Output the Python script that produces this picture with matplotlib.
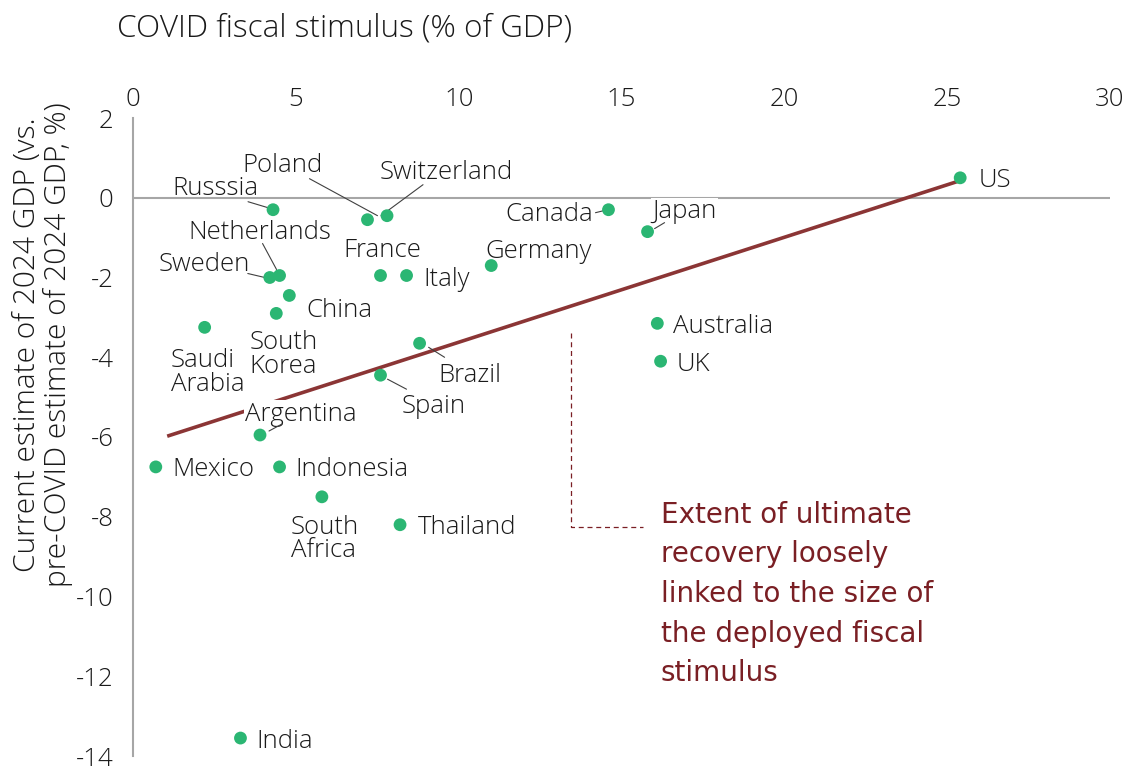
import matplotlib
matplotlib.use("Agg")
import matplotlib.pyplot as plt
import matplotlib.transforms as mtransforms

# ---------------- data ----------------
countries = ["US", "Russsia", "Poland", "Switzerland", "Netherlands", "Sweden",
             "China", "South\nKorea", "Saudi\nArabia", "France", "Italy", "Germany",
             "Canada", "Japan", "Australia", "UK", "Brazil", "Spain", "Argentina",
             "Mexico", "Indonesia", "South\nAfrica", "Thailand", "India"]
stimulus = [25.4, 4.3, 7.2, 7.8, 4.5, 4.2,
            4.8, 4.4, 2.2, 7.6, 8.4, 11.0,
            14.6, 15.8, 16.1, 16.2, 8.8, 7.6, 3.9,
            0.7, 4.5, 5.8, 8.2, 3.3]
gdp_gap = [0.5, -0.3, -0.55, -0.45, -1.95, -2.0,
           -2.45, -2.9, -3.25, -1.95, -1.95, -1.7,
           -0.3, -0.85, -3.15, -4.1, -3.65, -4.45, -5.95,
           -6.75, -6.75, -7.5, -8.2, -13.55]

trend_x = [1.05, 25.4]
trend_y = [-5.98, 0.43]

xticks = [0, 5, 10, 15, 20, 25, 30]
yticks = [2, 0, -2, -4, -6, -8, -10, -12, -14]

title = "COVID fiscal stimulus (% of GDP)"
ylabel = "Current estimate of 2024 GDP (vs.\npre-COVID estimate of 2024 GDP, %)"
note = "Extent of ultimate\nrecovery loosely\nlinked to the size of\nthe deployed fiscal\nstimulus"
note_x = [13.45, 13.45, 15.65]
note_y = [-3.4, -8.25, -8.25]

# label placement (pixel offsets from the point; ha)
label_pos = {
    "US": (18, 0, "left"),
    "Russsia": (-15, 24, "right"),
    "Poland": (-85, 57, "center"),
    "Switzerland": (59, 46, "center"),
    "Netherlands": (-20, 46, "center"),
    "Sweden": (-20, 16, "right"),
    "China": (17, -12, "left"),
    "South\nKorea": (-27, -38, "left"),
    "Saudi\nArabia": (-34, -42, "left"),
    "France": (2, 28, "center"),
    "Italy": (17, -1, "left"),
    "Germany": (47, 17, "center"),
    "Canada": (-15, -2, "right"),
    "Japan": (5, 23, "left"),
    "Australia": (16, 0, "left"),
    "UK": (16, 0, "left"),
    "Brazil": (50, -29, "center"),
    "Spain": (21, -28, "left"),
    "Argentina": (41, 24, "center"),
    "Mexico": (17, 0, "left"),
    "Indonesia": (16, 0, "left"),
    "South\nAfrica": (3, -39, "center"),
    "Thailand": (18, 0, "left"),
    "India": (16, 0, "left"),
}
# leader lines: (start offset, end offset) in pixels from the point
leaders = {
    "Russsia": ((-25, 8), (-5, 2)),
    "Poland": ((-58, 41), (10, 4)),
    "Switzerland": ((36, 31), (-6, 0)),
    "Netherlands": ((-17, 32), (-3, 6)),
    "Sweden": ((-22, 4), (-5, 0)),
    "Canada": ((-13, -3), (-5, -1)),
    "Japan": ((7, 3), (17, 9)),
    "Brazil": ((9, -4), (25, -14)),
    "Spain": ((7, -4), (26, -14)),
    "Argentina": ((9, 4), (22, 11)),
}
white_box = {"Japan", "Argentina"}

# ---------------- style ----------------
FONT = ["Open Sans", "DejaVu Sans"]
plt.rcParams["font.family"] = FONT
plt.rcParams["font.weight"] = "light"
GREEN = "#2BB673"
TREND = "#8B3535"
NOTE = "#7A1F24"
GREY = "#A6A6A6"
TXT = "#1A1A1A"
LS = 18.5
TEXT_SHIFT = -3  # small baseline correction for labels (pixels)

fig = plt.figure(figsize=(11.3, 7.7), dpi=100)
ax = fig.add_axes([133 / 1130, 1 - 756 / 770, (1110 - 133) / 1130, (756 - 118) / 770])
ax.set_xlim(0, 30)
ax.set_ylim(-14, 2)

for s in ["top", "right", "bottom"]:
    ax.spines[s].set_visible(False)
ax.spines["left"].set_color(GREY)
ax.spines["left"].set_linewidth(1.5)
ax.axhline(0, color=GREY, lw=1.5, zorder=1)

ax.xaxis.tick_top()
ax.set_xticks(xticks)
ax.set_xticklabels([str(t) for t in xticks])
ax.set_yticks(yticks)
ax.set_yticklabels([str(t) for t in yticks])
ax.tick_params(axis="both", length=0, labelsize=LS, colors=TXT)
ax.tick_params(axis="x", pad=4)
ax.tick_params(axis="y", pad=14)

ax.plot(trend_x, trend_y, color=TREND, lw=2.6, zorder=2, solid_capstyle="butt")
ax.scatter(stimulus, gdp_gap, s=85, color=GREEN, zorder=4, edgecolors="none")

for name, x, y in zip(countries, stimulus, gdp_gap):
    dx, dy, ha = label_pos[name]
    kw = {}
    if name in white_box:
        kw["bbox"] = dict(facecolor="white", edgecolor="none", pad=1.0)
    ax.annotate(name, (x, y), xytext=(dx, dy + TEXT_SHIFT), textcoords="offset pixels",
                ha=ha, va="center", fontsize=LS, color=TXT, zorder=3,
                multialignment="left", linespacing=0.92, **kw)
    if name in leaders:
        (sx, sy), (ex, ey) = leaders[name]
        tr = mtransforms.offset_copy(ax.transData, fig=fig, x=ex, y=ey, units="dots")
        ax.annotate("", xy=(x, y), xycoords=tr, xytext=(sx - ex, sy - ey),
                    textcoords="offset pixels",
                    arrowprops=dict(arrowstyle="-", color="#404040", lw=0.8,
                                    shrinkA=0, shrinkB=0), zorder=3)

ax.plot(note_x, note_y, color=NOTE, lw=0.9, ls=(0, (4, 3)), zorder=2)
ax.text(16.2, -7.6, note, ha="left", va="top", fontsize=20, color=NOTE,
        linespacing=1.53, family=["DejaVu Sans"], fontweight="normal")

fig.text(117 / 1130, 1 - 28 / 770, title, ha="left", va="center", fontsize=22.7, color=TXT)
fig.text(43 / 1130, 1 - 345 / 770, ylabel, ha="center", va="center", rotation=90,
         fontsize=21.5, color=TXT, multialignment="center", linespacing=1.05)

fig.savefig("out.png", dpi=100)
